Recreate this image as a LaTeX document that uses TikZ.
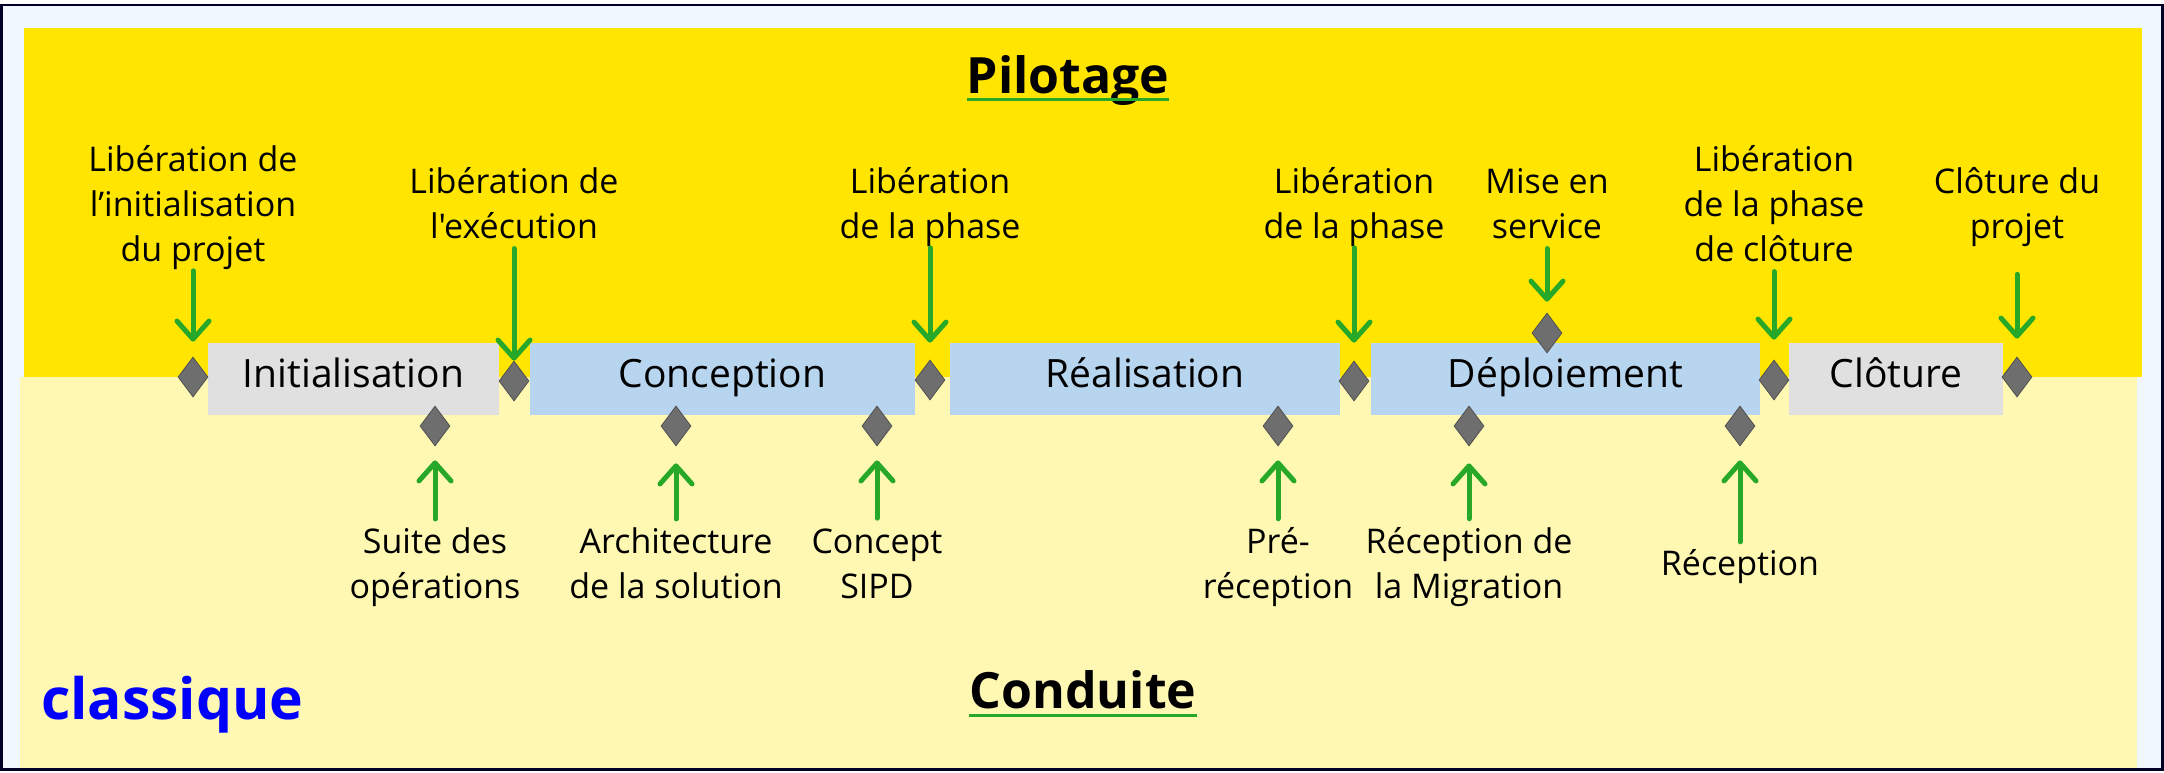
\documentclass[tikz,border=0pt]{standalone}
\usepackage{fontspec}
\usepackage{tikz}
\usetikzlibrary{shapes.geometric,arrows.meta}
\newfontfamily\police{Open Sans}
\definecolor{pilot}{RGB}{255,229,0}
\definecolor{conduite}{RGB}{255,248,178}
\definecolor{fond}{RGB}{240,247,255}
\definecolor{bleu}{RGB}{184,213,240}
\definecolor{gris}{RGB}{224,224,224}
\definecolor{vert}{RGB}{40,168,40}
\colorlet{jalongris}{black!57}
\colorlet{cadre}{black!85!blue}
\newcommand{\fontetiq}{\police\fontsize{34}{45}\selectfont}
\newcommand{\fontphase}{\police\fontsize{39}{47}\selectfont}
\newcommand{\fonttitre}{\police\bfseries\fontsize{50}{60}\selectfont}

\begin{document}
\begin{tikzpicture}[x=1pt,y=-1pt,
	phase/.style={minimum height=72pt,inner sep=0pt,outer sep=0pt,%
		font=\fontphase,text height=29pt,text depth=12pt},
	grise/.style={phase,fill=gris},
	bleue/.style={phase,fill=bleu},
	jalon/.style={diamond,fill=jalongris,draw=jalongris!75!black,line width=0.8pt,%
		minimum width=30pt,minimum height=40pt,inner sep=0pt},
	etiq/.style={align=center,inner sep=0pt,anchor=base,font=\fontetiq},
	fleche/.style={draw=vert,line width=5pt,line cap=round,%
		-{Straight Barb[length=18pt,width=32pt,round]}},
	titre/.style={inner sep=0pt,anchor=base,font=\fonttitre},
	souligne/.style={draw=vert,line width=3pt}
	]
	\useasboundingbox (0,0) rectangle (2164,772);

	% fonds
	\fill[fond] (1.5,5) rectangle (2162.5,769.5);
	\fill[pilot] (24,28) rectangle (2142,377);
	\fill[conduite] (20,377) rectangle (2137,768);
	\draw[cadre,line width=2.5pt] (1.5,5) rectangle (2162.5,769.5);

	% titres
	\node[titre] (pil) at (1068,93) {Pilotage};
	\draw[souligne] ([yshift=-6pt]pil.base west) -- ([yshift=-6pt]pil.base east);
	\node[titre] (cond) at (1083,708) {Conduite};
	\draw[souligne] ([yshift=-7pt]cond.base west) -- ([yshift=-7pt]cond.base east);
	\node[titre,anchor=base west,text=blue,font=\police\bfseries\fontsize{57}{60}\selectfont] (classique) at (41,719) {classique};

	% phases
	\node[grise,minimum width=291pt] (init) at (353.5,379) {Initialisation};
	\node[bleue,minimum width=385pt] (conc) at (722.5,379) {Conception};
	\node[bleue,minimum width=390pt] (real) at (1145,379) {Réalisation};
	\node[bleue,minimum width=389pt] (depl) at (1565.5,379) {Déploiement};
	\node[grise,minimum width=214pt] (clot) at (1896,379) {Clôture};

	% jalons de pilotage
	\node[jalon] (m1) at (193,377) {};
	\node[jalon] (m2) at (514,381) {};
	\node[jalon] (m3) at (930,380) {};
	\node[jalon] (m4) at (1354,381) {};
	\node[jalon] (m5) at (1547,333) {};
	\node[jalon] (m6) at (1774,380) {};
	\node[jalon] (m7) at (2017,377) {};

	\node[etiq] (l1) at (193,261) {Libération de\\l’initialisation\\du projet};
	\node[etiq] (l2) at (514,238) {Libération de\\l'exécution};
	\node[etiq] (l3) at (930,238) {Libération\\de la phase};
	\node[etiq] (l4) at (1354,238) {Libération\\de la phase};
	\node[etiq] (l5) at (1547,238) {Mise en\\service};
	\node[etiq] (l6) at (1774,261) {Libération\\de la phase\\de clôture};
	\node[etiq] (l7) at (2017,238) {Clôture du\\projet};

	\draw[fleche,shorten <=1.5pt,shorten >=15pt] (l1) -- (m1);
	\draw[fleche,shorten <=10pt,shorten >=0pt] (l2) -- (m2);
	\draw[fleche,shorten <=1.5pt,shorten >=17pt] (l3) -- (m3);
	\draw[fleche,shorten <=1.5pt,shorten >=18pt] (l4) -- (m4);
	\draw[fleche,shorten <=10pt,shorten >=11pt] (l5) -- (m5);
	\draw[fleche,shorten <=10pt,shorten >=20pt] (l6) -- (m6);
	\draw[fleche,shorten <=28pt,shorten >=18pt] (l7) -- (m7);

	% jalons de conduite
	\node[jalon] (b1) at (435,426) {};
	\node[jalon] (b2) at (676,426) {};
	\node[jalon] (b3) at (877,426) {};
	\node[jalon] (b4) at (1278,426) {};
	\node[jalon] (b5) at (1469,426) {};
	\node[jalon] (b6) at (1740,426) {};

	\node[etiq] (s1) at (435,598) {Suite des\\opérations};
	\node[etiq] (s2) at (676,598) {Architecture\\de la solution};
	\node[etiq] (s3) at (877,598) {Concept\\SIPD};
	\node[etiq] (s4) at (1278,598) {Pré-\\réception};
	\node[etiq] (s5) at (1469,598) {Réception de\\la Migration};
	\node[etiq] (s6) at (1740,575) {Réception};

	\draw[fleche,shorten <=8pt,shorten >=14pt] (s1) -- (b1);
	\draw[fleche,shorten <=8pt,shorten >=17pt] (s2) -- (b2);
	\draw[fleche,shorten <=10pt,shorten >=14pt] (s3) -- (b3);
	\draw[fleche,shorten <=8pt,shorten >=14pt] (s4) -- (b4);
	\draw[fleche,shorten <=8pt,shorten >=17pt] (s5) -- (b5);
	\draw[fleche,shorten <=7pt,shorten >=14pt] (s6) -- (b6);
\end{tikzpicture}
\end{document}
